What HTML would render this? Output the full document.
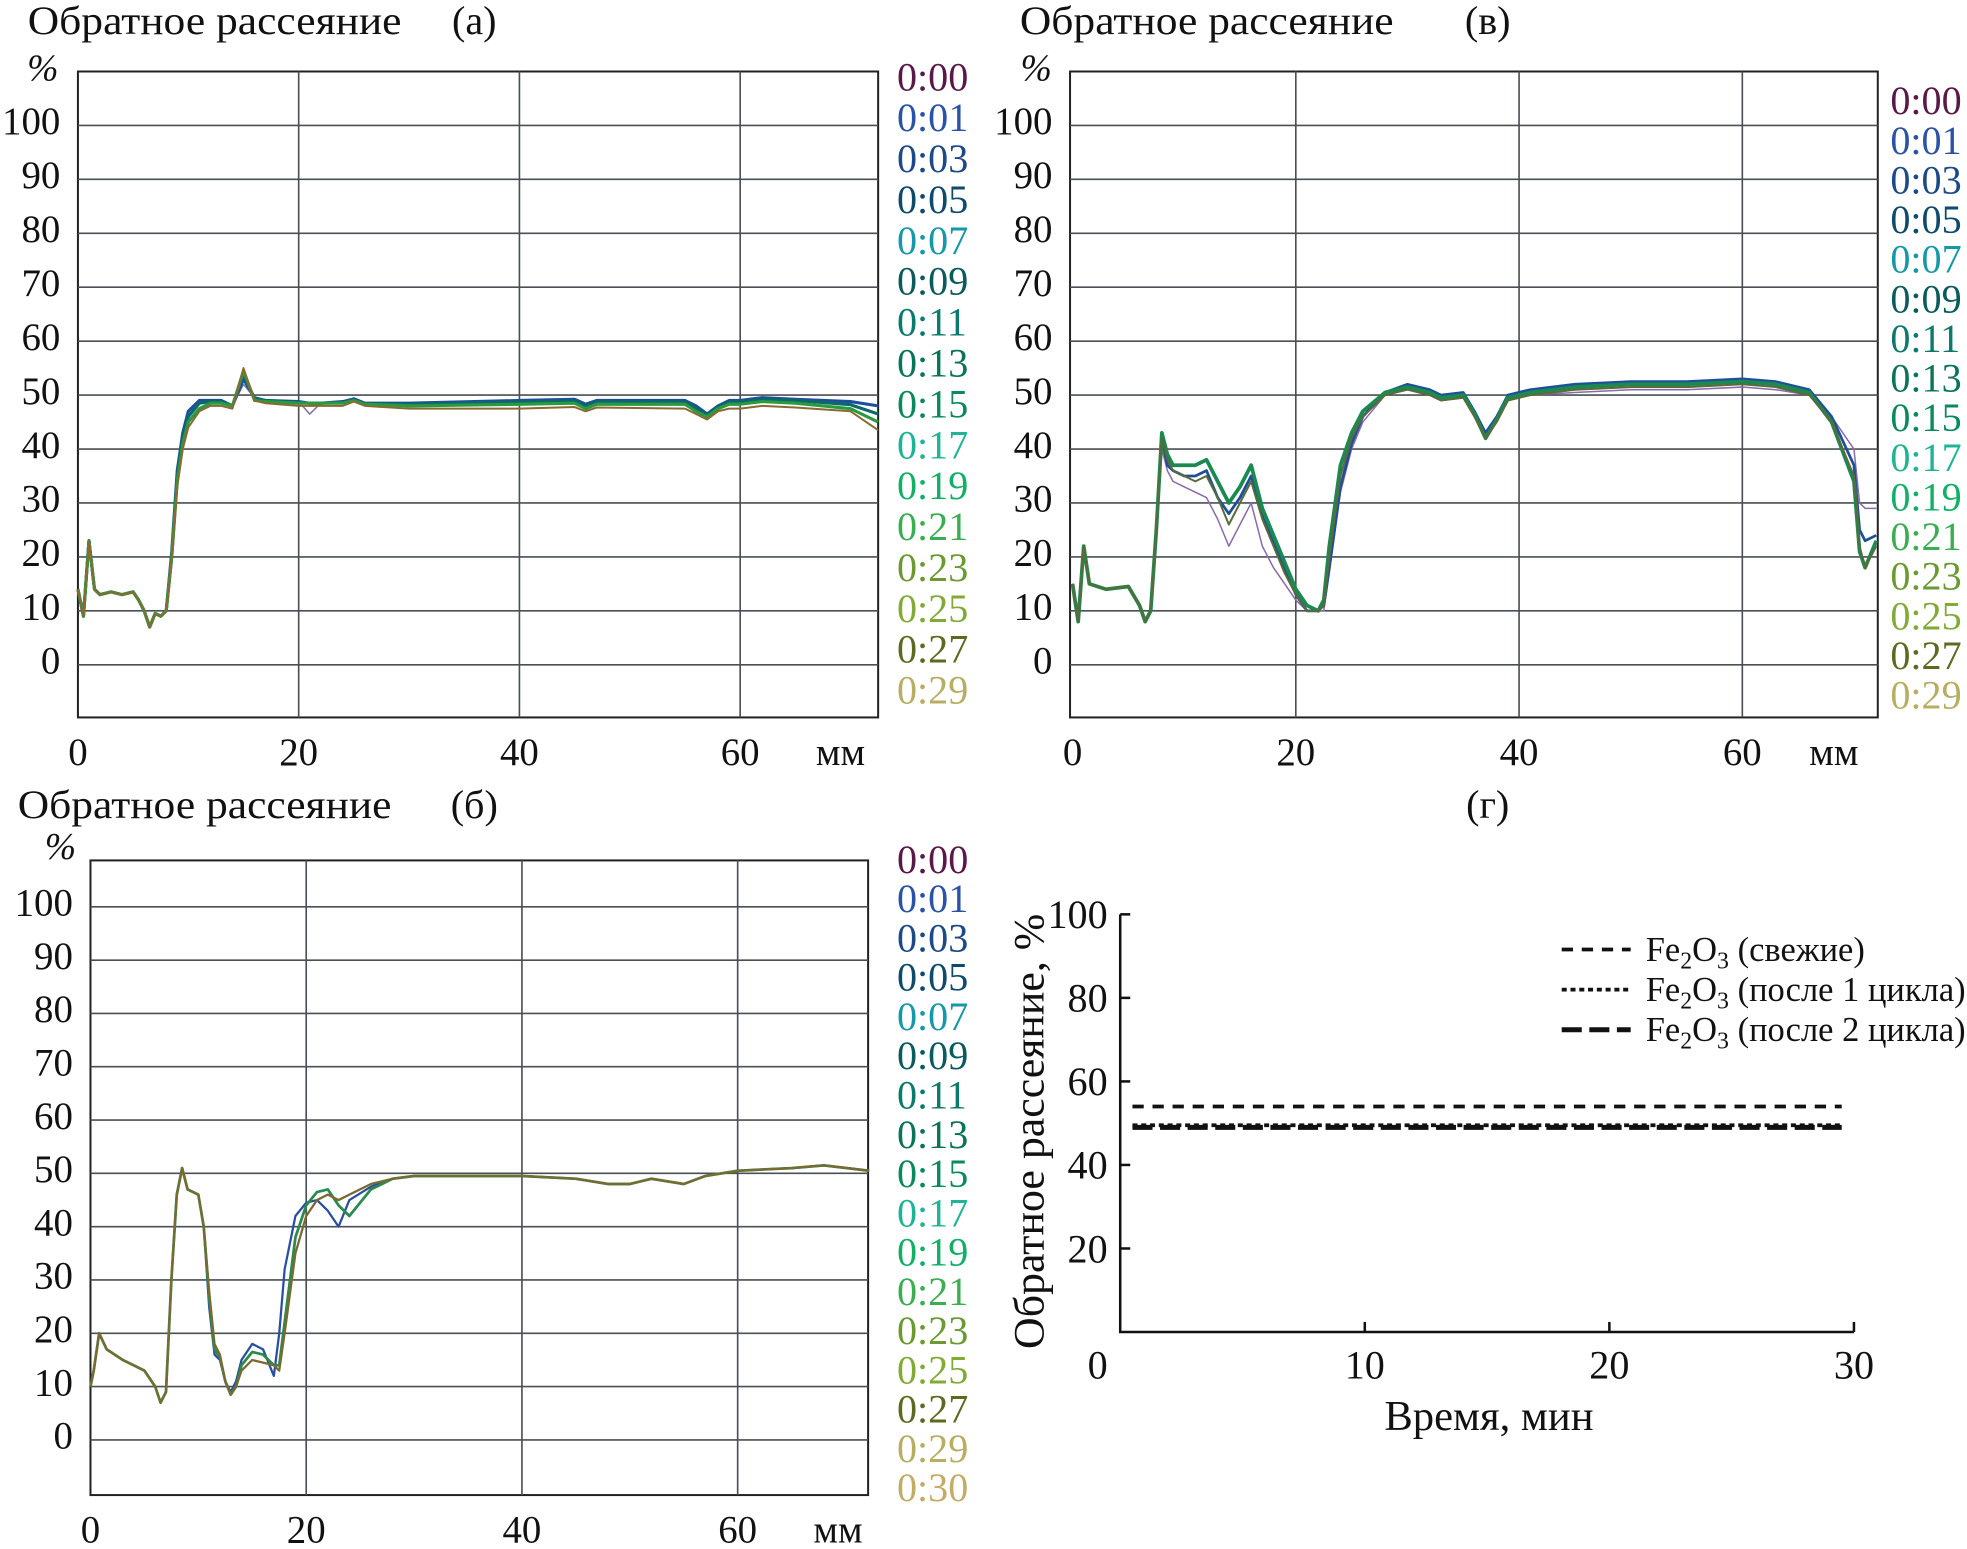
<!DOCTYPE html>
<html><head><meta charset="utf-8"><style>
html,body{margin:0;padding:0;background:#fff;}
svg{display:block;}
text{font-family:"Liberation Serif","DejaVu Serif",serif;}
</style></head><body>
<svg id="fig" width="1967" height="1549" viewBox="0 0 1568 1235" xmlns="http://www.w3.org/2000/svg">
<g id="root"></g>
</svg>
<script>
// ---------- Data ----------
const timeLabelsA = ["0:00","0:01","0:03","0:05","0:07","0:09","0:11","0:13","0:15","0:17","0:19","0:21","0:23","0:25","0:27","0:29"];
const timeLabelsB = ["0:00","0:01","0:03","0:05","0:07","0:09","0:11","0:13","0:15","0:17","0:19","0:21","0:23","0:25","0:27","0:29","0:30"];
const timeColors = ["#5a1848","#2a52a6","#1c4a86","#0d4a6c","#1598a8","#0a5a5e","#0a7a6c","#0a7458","#0a8a5c","#20b496","#12b066","#3cae52","#6a9a30","#82aa36","#5e6a20","#b8ae62","#c4ac66"];
const xTicks = [0,20,40,60];
const yTicks = [0,10,20,30,40,50,60,70,80,90,100];

const xsA = [0,0.5,1,1.5,2,3,4,5,5.5,6,6.5,7,7.5,8,8.5,9,9.5,10,11,12,13,14,15,16,17,20,21,22,24,25,26,30,40,45,46,47,55,56,57,58,59,60,62,65,70,72.5];
const aPurple = [14,9,23,14,13,13.5,13,13.5,12,10,7,9.5,9,10,21,36,43,47,49,49,49,48,52,49.5,49,48.8,46.5,48.5,48.8,49.3,48.5,48.5,49,49.2,48.3,49,49,48,46.5,48,49,49,49.5,49.2,48.8,48];
const aBlue = [14,9,23,14,13,13.5,13,13.5,12,10,7,9.5,9,10,21,36,43,47,49,49,49,48,53,49.5,49,48.8,48.5,48.5,48.8,49.3,48.5,48.5,49,49.2,48.3,49,49,48,46.5,48,49,49,49.5,49.2,48.8,48];
const aTeal = [14,9,23,14,13,13.5,13,13.5,12,10,7,9.5,9,10,20,35,42,46,48.5,48.8,48.8,48,54,49.3,49,48.6,48.5,48.5,48.6,49.1,48.4,48.3,48.7,48.9,48,48.7,48.7,47.5,46.2,47.8,48.7,48.7,49.2,49,48.2,46.5];
const aGreen = [14,9,23,14,13,13.5,13,13.5,12,10,7,9.5,9,10,20,34,41,45,47.5,48.5,48.5,48,54.5,49,48.8,48.5,48.5,48.5,48.5,49,48.3,48,48.3,48.5,47.5,48.3,48.3,47,46,47.5,48.3,48.3,48.8,48.5,47.5,45];
const aBrown = [14,9,23,14,13,13.5,13,13.5,12,10,7,9.5,9,10,20,33,40,44,47,48,48,47.5,55,49,48.5,48,48,48,48,48.8,48,47.5,47.5,47.8,47,47.7,47.5,46.5,45.5,47,47.5,47.5,48,47.7,47,43.5];

const xsV = [0,0.5,1,1.5,3,5,6,6.5,7,7.5,8,8.5,9,10,11,12,13,14,15,16,17,18,19,20,21,22,22.5,23,24,25,26,28,30,32,33,35,36,37,38,39,41,45,50,55,60,63,66,68,70,70.5,71,72];
const vPurple = [15,8,22,15,14,14.5,11,8,10,25,40,36,34,33,32,31,27,22,26,30,22,18,15,12,10,10,10,17,32,40,45,50,51,50,49,49.5,46,42,45,49,50,50.5,51,51,51.5,51,50,46,40,30,29,29];
const vBlue = [15,8,22,15,14,14.5,11,8,10,25,42,37,36,35,35,36,31,28,31,35,28,23,18,13,10,10,11,18,33,41,46,50.5,52,51,50,50.5,47,43,46,50,51,52,52.5,52.5,53,52.5,51,46,37,25,23,24];
const vGreen = [15,8,22,15,14,14.5,11,8,10,25,43,39,37,37,37,38,34,30,33,37,29,24,19,14,11,10,12,22,37,43,47,50.5,51.5,50.5,49.5,50,46.5,42,45.5,49.5,50.5,51.5,52,52,52.5,52,50.5,45,34,21,18,23];
const vBrown = [15,8,22,15,14,14.5,11,8,10,25,42,38,36,35,34,35,31,26,30,34,27,22,17,13,10,10,11,20,35,42,46,50,51,50,49,49.5,46,42,45,49,50,51,51.5,51.5,52,51.5,50,45,35,22,18,22];

const xsB = [0,0.3,0.8,1.5,3,4,5,6,6.5,7,7.5,8,8.5,9,10,10.5,11,11.5,12,12.5,13,13.5,14,15,16,17,17.5,18,19,20,21,22,23,24,26,28,30,35,40,45,48,50,52,55,57,60,65,68,72.2];
const bBlue = [10,13,20,17,15,14,13,10,7,9,30,46,51,47,46,40,25,16,15,11,9,11,15,18,17,12,20,32,42,44.5,45,43,40,45,47.5,49,49.5,49.5,49.5,49,48,48,49,48,49.5,50.5,51,51.5,50.5];
const bGreen = [10,13,20,17,15,14,13,10,7,9,30,46,51,47,46,40,27,17,15.5,11,8.5,10,14,16.5,16,14,14,22,38,44,46.5,47,44,42,47,49,49.5,49.5,49.5,49,48,48,49,48,49.5,50.5,51,51.5,50.5];
const bBrown = [10,13,20,17,15,14,13,10,7,9,30,46,51,47,46,40,28,18,16,11,8.5,10,13,15,14.5,14,13,20,35,42,45,46,45,46,48,49,49.5,49.5,49.5,49,48,48,49,48,49.5,50.5,51,51.5,50.5];

// panel (г)
const gXTicks = [0,10,20,30];
const gYTicks = [20,40,60,80,100];
const gTime = [0.5,29.5];
const gFresh = [54,54];
const gCycle1 = [49.5,49.5];
const gCycle2 = [49,49];

// ---------- Drawing ----------
const NS="http://www.w3.org/2000/svg";
const root=document.getElementById('root');
function el(tag,attrs,parent,txt){const e=document.createElementNS(NS,tag);for(const k in attrs)e.setAttribute(k,attrs[k]);if(txt!==undefined)e.textContent=txt;(parent||root).appendChild(e);return e;}

function panel(cfg){
  const g=el('g',{});
  
  
  const sx=v=>cfg.x0+(v-0)*cfg.kx;
  const sy=v=>cfg.y0-v*cfg.ky;
  const fr=el('rect',{x:cfg.left,y:cfg.top,width:cfg.right-cfg.left,height:cfg.bottom-cfg.top,fill:'#fff',stroke:'#222','stroke-width':1.6},g);
  
  
  for(let v=-10;v<=110;v+=10){const y=sy(v);if(y<=cfg.top+2||y>=cfg.bottom-2)continue;
    const l=el('line',{x1:cfg.left,x2:cfg.right,y1:y,y2:y,stroke:'#4a4f55','stroke-width':1.3},g);
    
    }
  xTicks.forEach(v=>{const x=sx(v);if(v>0){const l=el('line',{x1:x,x2:x,y1:cfg.top,y2:cfg.bottom,stroke:'#4a4f55','stroke-width':1.3},g);
    
    }
    const t=el('text',{x:x,y:cfg.bottom+38,'font-size':31,'text-anchor':'middle',fill:'#111'},g,String(v));
    
    });
  const mm=el('text',{x:cfg.mmX,y:cfg.bottom+38,'font-size':31,'text-anchor':'middle',fill:'#111'},g,'мм');
  
  
  yTicks.forEach(v=>{const t=el('text',{x:cfg.left-14,y:sy(v)+7,'font-size':31,'text-anchor':'end',fill:'#111'},g,String(v));
    
    });
  const pc=el('text',{x:cfg.pctX,y:cfg.pctY,'font-size':30,'font-style':'italic','text-anchor':'middle',fill:'#111'},g,'%');
  
  
  if(cfg.title){const t=el('text',{x:cfg.titleX,y:cfg.titleY,'font-size':32,fill:'#111',textLength:298,lengthAdjust:'spacingAndGlyphs'},g,cfg.title);
    
    }
  const lb=el('text',{x:cfg.letterX,y:cfg.titleY,'font-size':32,fill:'#111','text-anchor':'middle'},g,cfg.letter);
  
  
  cfg.series.forEach(s=>{
    const d=cfg.xs.map((x,i)=>(i?'L':'M')+sx(x).toFixed(1)+','+sy(s.y[i]).toFixed(1)).join(' ');
    const p=el('path',{d:d,fill:'none',stroke:s.c,'stroke-width':s.w,'stroke-linejoin':'round',opacity:s.o||1},g);
    
    
  });
  cfg.labels.forEach((lab,i)=>{const t=el('text',{x:cfg.legX,y:cfg.legY+i*cfg.legDy,'font-size':32,fill:timeColors[i]},g,lab);
    
    });
}

panel({name:'panel-a',x0:62,kx:8.8,y0:530,ky:4.3,left:62,right:700,top:57,bottom:572,mmX:670,pctX:34,pctY:64,
  title:'Обратное рассеяние',titleX:22,titleY:27,letter:'(а)',letterX:378,xs:xsA,labels:timeLabelsA,legX:715,legY:72,legDy:32.6,
  series:[{n:'0-00',y:aPurple,c:'#8a6aa8',w:1.2},{n:'0-01',y:aBlue,c:'#1f4f9a',w:2.5},{n:'0-09',y:aTeal,c:'#0a6a6a',w:2.5},{n:'0-19',y:aGreen,c:'#2a9a40',w:2.5},{n:'0-29',y:aBrown,c:'#8a6a30',w:1.6}]});

panel({name:'panel-v',x0:855,kx:8.9,y0:530,ky:4.3,left:853,right:1497,top:57,bottom:572,mmX:1462,pctX:826,pctY:64,
  title:'Обратное рассеяние',titleX:813,titleY:27,letter:'(в)',letterX:1186,xs:xsV,labels:timeLabelsA,legX:1507,legY:91,legDy:31.6,
  series:[{n:'0-00',y:vPurple,c:'#8a6aa8',w:1.2},{n:'0-01',y:vBlue,c:'#1f4f9a',w:2.2},{n:'0-15',y:vGreen,c:'#1a8a50',w:3},{n:'0-29',y:vBrown,c:'#5a6a3a',w:1.6}]});

panel({name:'panel-b',x0:72,kx:8.6,y0:1148,ky:4.25,left:72,right:692,top:686,bottom:1192,mmX:668,pctX:48,pctY:685,
  title:'Обратное рассеяние',titleX:14,titleY:652,letter:'(б)',letterX:378,xs:xsB,labels:timeLabelsB,legX:715,legY:696,legDy:31.3,
  series:[{n:'0-01',y:bBlue,c:'#2a4fa0',w:1.8},{n:'0-15',y:bGreen,c:'#2a8a50',w:2.2},{n:'0-30',y:bBrown,c:'#7a6a30',w:1.8}]});

(function(){
  const g=el('g',{});
  
  
  const L=893,R=1478,B=1062;
  const sx=v=>L+v*19.5, sy=v=>B-v*3.33;
  const lt=el('text',{x:1186,y:652,'font-size':32,'text-anchor':'middle',fill:'#111'},g,'(г)');
  
  
  const ax=el('path',{d:`M${L},${sy(100)} L${L},${B} L${R},${B}`,fill:'none',stroke:'#111','stroke-width':2},g);
  
  
  gYTicks.forEach(v=>{el('line',{x1:L,x2:L+8,y1:sy(v),y2:sy(v),stroke:'#111','stroke-width':2},g);
    const t=el('text',{x:L-10,y:sy(v)+11,'font-size':32,'text-anchor':'end',fill:'#111'},g,String(v));
    
    });
  gXTicks.forEach(v=>{if(v>0)el('line',{x1:sx(v),x2:sx(v),y1:B,y2:B-8,stroke:'#111','stroke-width':2},g);
    const t=el('text',{x:v===0?L-18:sx(v),y:B+37,'font-size':32,'text-anchor':'middle',fill:'#111'},g,String(v));
    
    });
  const xt=el('text',{x:1187,y:1140,'font-size':34,'text-anchor':'middle',fill:'#111'},g,'Время, мин');
  
  
  const yt=el('text',{x:0,y:0,'font-size':35,'text-anchor':'middle',fill:'#111',transform:'translate(832,902) rotate(-90)'},g,'Обратное рассеяние, %');
  
  
  const ser=[{y:gFresh,d:'9,7',w:3,n:'fresh'},{y:gCycle1,d:'4,3',w:3,n:'cycle1'},{y:gCycle2,d:'16,6',w:4,n:'cycle2'}];
  ser.forEach(s=>{const p=el('path',{d:gTime.map((t,i)=>(i?'L':'M')+sx(t)+','+sy(s.y[i])).join(' '),stroke:'#111','stroke-width':s.w,'stroke-dasharray':s.d,fill:'none'},g);
    
    });
  const legs=['(свежие)','(после 1 цикла)','(после 2 цикла)'];
  legs.forEach((t,i)=>{const y=757+i*32;
    el('line',{x1:1245,x2:1300,y1:y,y2:y,stroke:'#111','stroke-width':ser[i].w,'stroke-dasharray':ser[i].d},g);
    const tx=el('text',{x:1312,y:y+9,'font-size':27.5,fill:'#111'},g);
    
    
    el('tspan',{},tx,'Fe');el('tspan',{'font-size':19,dy:6},tx,'2');el('tspan',{dy:-6},tx,'O');el('tspan',{'font-size':19,dy:6},tx,'3');el('tspan',{dy:-6},tx,' '+t);
  });
})();
</script>
</body></html>
